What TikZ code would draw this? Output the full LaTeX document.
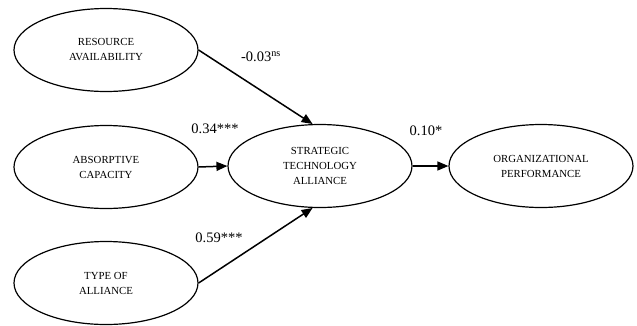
\documentclass[tikz,border=0pt]{standalone}
\usepackage{fontspec}
\setmainfont{Liberation Serif}
\usetikzlibrary{shapes.geometric,arrows.meta}
\tikzset{var/.style={draw,line width=1.2pt,ellipse,minimum width=184pt,minimum height=83pt,inner sep=0pt,align=center,font=\fontsize{10.8}{15}\selectfont},
	path/.style={line width=1.5pt,-{Triangle[length=11pt,width=9pt]}},
	coef/.style={inner sep=0pt,font=\fontsize{14.5}{16}\selectfont}}

\begin{document}
\begin{tikzpicture}[x=1pt,y=-1pt]
				\useasboundingbox (0,0) rectangle (637,325);
				\node[var] (res) at (106,50){RESOURCE\\AVAILABILITY};
				\node[var] (abs) at (106,167){ABSORPTIVE\\CAPACITY};
				\node[var] (typ) at (106,283){TYPE OF\\ALLIANCE};
				\node[var] (sta) at (320,166){STRATEGIC\\TECHNOLOGY\\ALLIANCE};
				\node[var] (org) at (541,166){ORGANIZATIONAL\\PERFORMANCE};
				\draw[path] (res.east) -- (sta.100);
				\draw[path] (abs.east) -- (sta.west);
				\draw[path] (typ.east) -- (sta.260);
				\draw[path] (sta.east) -- (org.west);
				\node[coef] (c1) at (261,57){-0.03\textsuperscript{ns}};
				\node[coef] (c2) at (215,129){0.34***};
				\node[coef] (c3) at (219,238){0.59***};
				\node[coef] (c4) at (426,131){0.10*};
			\end{tikzpicture}
\end{document}
